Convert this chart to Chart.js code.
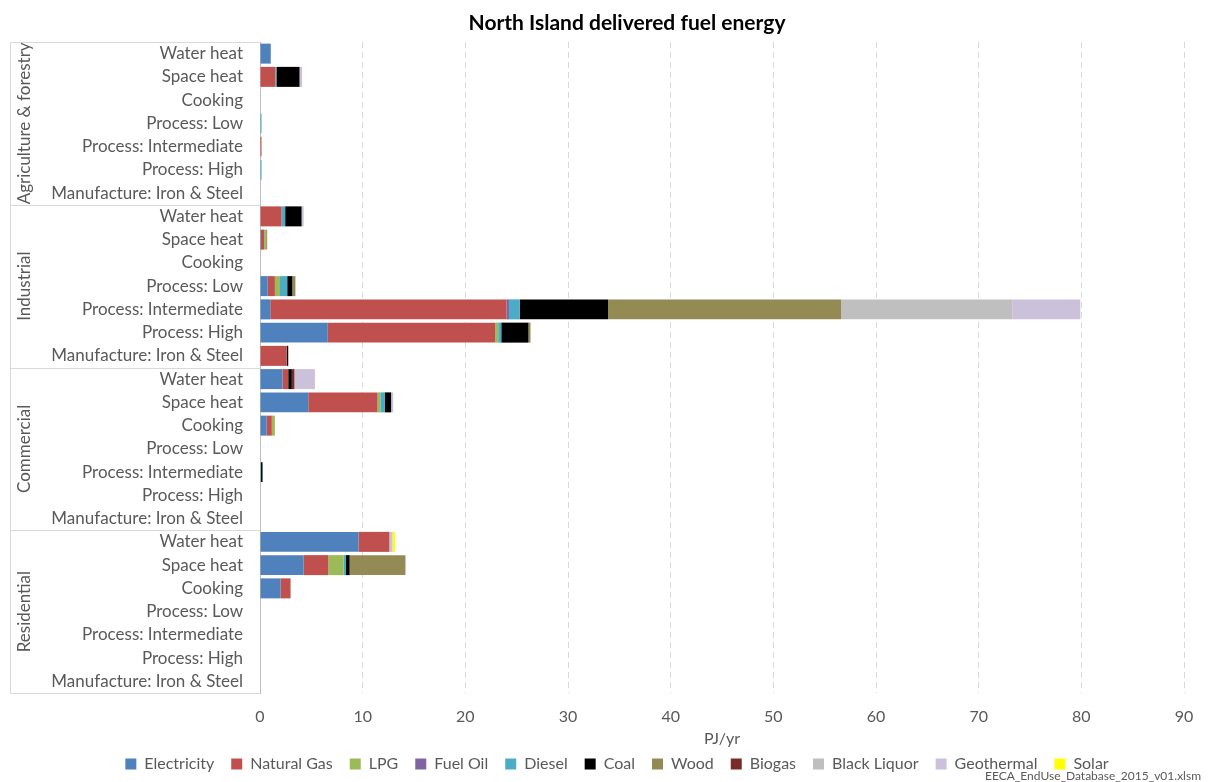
<!DOCTYPE html>
<html>
<head>
<meta charset="utf-8">
<script src="https://cdn.jsdelivr.net/npm/chart.js@4.4.0/dist/chart.umd.min.js"></script>
<style>
  html, body { margin: 0; padding: 0; background: #fff; }
  #wrap { width: 1208px; height: 782px; position: relative; }
</style>
</head>
<body>
<div id="wrap"><canvas id="grafik"></canvas></div>
<script>
// Sektor dan penggunaan akhir
const sektor = ['Agriculture & forestry', 'Industrial', 'Commercial', 'Residential'];
const penggunaan = ['Water heat', 'Space heat', 'Cooking', 'Process: Low', 'Process: Intermediate', 'Process: High', 'Manufacture: Iron & Steel'];
const kategori = [];
sektor.forEach(() => penggunaan.forEach(p => kategori.push(p)));

const bahanBakar = ['Electricity', 'Natural Gas', 'LPG', 'Fuel Oil', 'Diesel', 'Coal', 'Wood', 'Biogas', 'Black Liquor', 'Geothermal', 'Solar'];
const warna = ['#4f81bd', '#c0504d', '#9bbb59', '#8064a2', '#4bacc6', '#000000', '#948a54', '#772c2a', '#bfbfbf', '#ccc1da', '#ffff00'];

// PJ/yr, urutan: Agri (7), Industrial (7), Commercial (7), Residential (7)
const electricity = [1.05,0,0,0,0,0,0,  0,0.1,0,0.75,1.0,6.6,0,   2.2,4.7,0.65,0,0,0,0,  9.6,4.25,2.0,0,0,0,0];
const naturalGas  = [0,1.5,0,0,0.15,0,0, 2.1,0.3,0,0.7,23.0,16.3,2.6, 0.55,6.75,0.5,0,0,0,0, 3.0,2.4,0.95,0,0,0,0];
const lpg         = [0,0,0,0,0,0,0,     0,0.2,0,0.5,0,0.3,0,      0,0.27,0.3,0,0,0,0,   0,1.5,0,0,0,0,0];
const fuelOil     = [0,0,0,0,0,0,0,     0,0,0,0,0.25,0,0,         0,0,0,0,0,0,0,        0,0,0,0,0,0,0];
const diesel      = [0,0.1,0,0.15,0,0.15,0, 0.35,0,0,0.7,1.05,0.3,0, 0,0.45,0,0,0.1,0,0, 0,0.23,0,0,0,0,0];
const coal        = [0,2.25,0,0,0,0,0,  1.6,0,0,0.5,8.6,2.65,0.15, 0.35,0.6,0,0,0.15,0,0, 0,0.35,0,0,0,0,0];
const wood        = [0,0,0,0,0,0,0,     0,0.1,0,0.3,22.7,0.2,0,   0,0,0,0,0,0,0,        0,5.4,0.05,0,0,0,0];
const biogas      = [0,0,0,0,0,0,0,     0,0,0,0,0,0,0,            0.25,0,0,0,0,0,0,     0,0,0,0,0,0,0];
const blackLiquor = [0,0,0,0,0,0,0,     0,0,0,0,16.7,0,0,         0,0,0,0,0,0,0,        0,0,0,0,0,0,0];
const geothermal  = [0,0.25,0,0,0,0,0,  0.2,0,0,0,6.6,0,0,        2.0,0.2,0,0,0,0,0,    0.3,0.1,0,0,0,0,0];
const solar       = [0,0,0,0,0,0,0,     0,0,0,0,0,0,0,            0,0,0,0,0,0,0,        0.25,0,0,0,0,0,0];
const nilai = [electricity, naturalGas, lpg, fuelOil, diesel, coal, wood, biogas, blackLiquor, geothermal, solar];

const xTicks = [0, 10, 20, 30, 40, 50, 60, 70, 80, 90];

const huruf = 'Lato, "Open Sans", sans-serif';
const abuGaris = '#d9d9d9';

const dataEnergi = {
    labels: kategori,
    datasets: bahanBakar.map((b, i) => ({
        label: b,
        data: nilai[i],
        backgroundColor: warna[i],
        borderWidth: 0,
        categoryPercentage: 1,
        barPercentage: 0.86
    }))
};

// Judul, label sektor, garis pemisah dan catatan sumber
const pluginHiasan = {
    id: 'hiasan',
    afterLayout(chart) {
        // geser legenda sedikit ke kanan seperti di gambar asli
        chart.legend.left += 25;
        chart.legend.right += 25;
    },
    afterDraw(chart) {
        const ctx = chart.ctx;
        const area = chart.chartArea;
        const barisTinggi = (area.bottom - area.top) / kategori.length;
        ctx.save();
        ctx.strokeStyle = abuGaris;
        ctx.lineWidth = 1;
        ctx.beginPath();
        ctx.moveTo(10.5, area.top);
        ctx.lineTo(10.5, area.bottom);
        for (let s = 0; s <= sektor.length; s++) {
            const yy = Math.round(area.top + s * 7 * barisTinggi) + 0.5;
            ctx.moveTo(10, yy);
            ctx.lineTo(area.left, yy);
        }
        ctx.stroke();

        ctx.fillStyle = '#595959';
        ctx.font = '17px ' + huruf;
        ctx.textAlign = 'center';
        ctx.textBaseline = 'middle';
        sektor.forEach((s, i) => {
            const cy = area.top + (i * 7 + 3.5) * barisTinggi;
            ctx.save();
            ctx.translate(25, cy);
            ctx.rotate(-Math.PI / 2);
            ctx.fillText(s, 0, 0);
            ctx.restore();
        });

        ctx.fillStyle = '#000';
        ctx.font = 'bold 21px ' + huruf;
        ctx.fillText('North Island delivered fuel energy', 627, 23);

        ctx.fillStyle = '#595959';
        ctx.font = '12px ' + huruf;
        ctx.textAlign = 'right';
        ctx.fillText('EECA_EndUse_Database_2015_v01.xlsm', 1201, 776);
        ctx.restore();
    }
};

const configEnergi = {
    type: 'bar',
    data: dataEnergi,
    options: {
        indexAxis: 'y',
        responsive: true,
        maintainAspectRatio: false,
        animation: false,
        layout: { padding: { top: 42, right: 24, left: 0, bottom: 0 } },
        scales: {
            x: {
                stacked: true,
                min: 0,
                max: 90,
                afterBuildTicks: s => { s.ticks = xTicks.map(v => ({ value: v })); },
                afterFit: s => { s.height = 46; },
                grid: { color: abuGaris, drawTicks: false },
                border: { display: false, dash: [6, 4] },
                ticks: { color: '#595959', font: { family: huruf, size: 16 }, padding: 14 },
                title: { display: true, text: 'PJ/yr', color: '#595959', font: { family: huruf, size: 16 }, padding: { top: 4, bottom: -9 } }
            },
            y: {
                stacked: true,
                afterFit: s => { s.width = 260; },
                grid: { display: false },
                border: { display: true, color: '#bfbfbf' },
                ticks: { color: '#595959', font: { family: huruf, size: 17 }, padding: 9, autoSkip: false }
            }
        },
        plugins: {
            legend: {
                position: 'bottom',
                labels: {
                    color: '#595959',
                    font: { family: huruf, size: 16 },
                    boxWidth: 11,
                    boxHeight: 11,
                    padding: 17
                }
            },
            tooltip: { enabled: false }
        }
    },
    plugins: [pluginHiasan]
};

var grafikEnergi = new Chart(document.getElementById('grafik'), configEnergi);
</script>
</body>
</html>
